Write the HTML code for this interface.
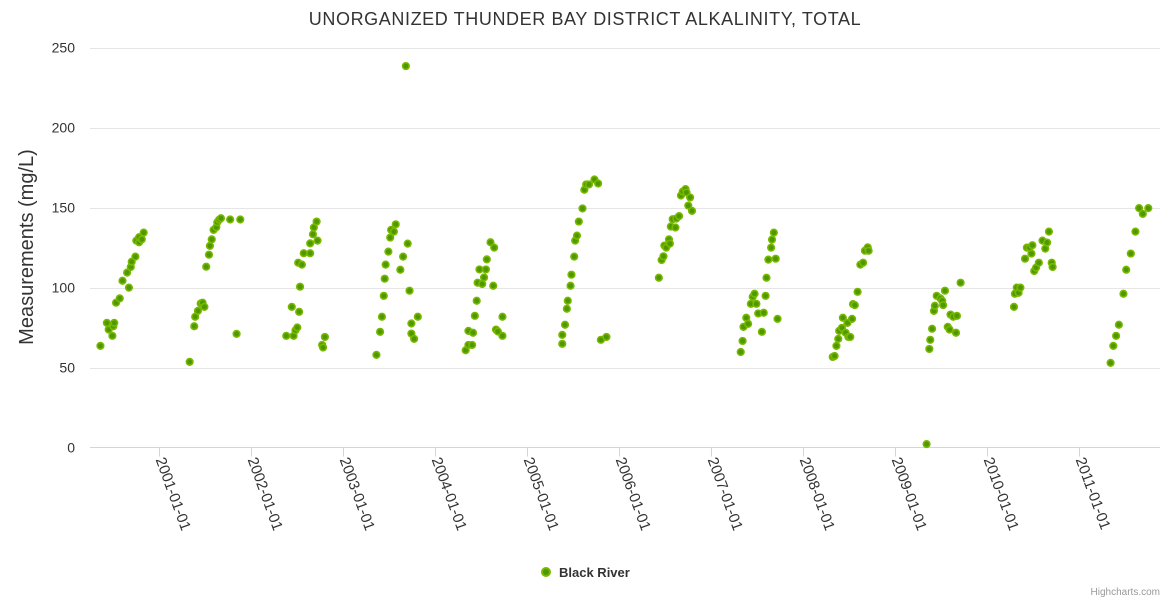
<!DOCTYPE html>
<html><head><meta charset="utf-8">
<style>
html,body{margin:0;padding:0;background:#fff;}
svg{display:block;font-family:"Liberation Sans",sans-serif;}
</style></head>
<body>
<svg id="chart" width="1170" height="600" viewBox="0 0 1170 600">
  <text x="585" y="25" text-anchor="middle" font-size="18" fill="#333" letter-spacing="0.6">UNORGANIZED THUNDER BAY DISTRICT ALKALINITY, TOTAL</text>
  <g id="grid"></g>
  <g id="yticks"></g>
  <text transform="translate(33,247) rotate(-90)" text-anchor="middle" font-size="20" fill="#333">Measurements (mg/L)</text>
  <line x1="90" y1="447.5" x2="1160" y2="447.5" stroke="#ccd6eb" stroke-width="1"/>
  <g id="xticks"></g>
  <g id="points"></g>
  <g>
    <circle cx="546" cy="572" r="4" fill="#4c9900" stroke="#7ab800" stroke-width="2"/>
    <text x="559" y="577" font-size="13" font-weight="bold" fill="#333">Black River</text>
  </g>
  <text x="1160" y="595" text-anchor="end" font-size="10" fill="#999">Highcharts.com</text>
</svg>
<script>
const yTicks = [0, 50, 100, 150, 200, 250];
const xTickYears = [2001, 2002, 2003, 2004, 2005, 2006, 2007, 2008, 2009, 2010, 2011];
const xTickLabels = ["2001-01-01","2002-01-01","2003-01-01","2004-01-01","2005-01-01","2006-01-01","2007-01-01","2008-01-01","2009-01-01","2010-01-01","2011-01-01"];
// sample dates as decimal years
const sampleYears = [
2000.36,2000.43,2000.45,2000.49,2000.50,2000.51,2000.53,2000.57,2000.60,2000.65,2000.67,2000.69,2000.70,2000.74,2000.75,2000.78,2000.78,2000.81,2000.83,
2001.33,2001.38,2001.39,2001.42,2001.45,2001.47,2001.49,2001.51,2001.54,2001.55,2001.57,2001.59,2001.62,2001.63,2001.65,2001.67,2001.77,2001.88,2001.84,
2002.38,2002.44,2002.46,2002.48,2002.50,2002.52,2002.53,2002.51,2002.55,2002.57,2002.64,2002.64,2002.67,2002.68,2002.71,2002.72,2002.77,2002.78,2002.80,
2003.36,2003.40,2003.42,2003.44,2003.45,2003.46,2003.49,2003.51,2003.52,2003.55,2003.57,2003.62,2003.65,2003.70,2003.72,2003.74,2003.74,2003.77,2003.81,2003.68,
2004.33,2004.36,2004.40,2004.36,2004.41,2004.43,2004.45,2004.46,2004.51,2004.53,2004.48,2004.55,2004.56,2004.60,2004.64,2004.63,2004.66,2004.68,2004.73,2004.73,
2005.38,2005.38,2005.41,2005.43,2005.44,2005.47,2005.48,2005.51,2005.52,2005.54,2005.56,2005.60,2005.62,2005.64,2005.67,2005.73,2005.77,2005.80,2005.86,
2006.43,2006.46,2006.48,2006.49,2006.51,2006.54,2006.55,2006.56,2006.58,2006.61,2006.62,2006.65,2006.67,2006.69,2006.72,2006.73,2006.77,2006.75,2006.79,
2007.32,2007.34,2007.35,2007.38,2007.40,2007.43,2007.45,2007.47,2007.49,2007.51,2007.55,2007.57,2007.59,2007.60,2007.62,2007.65,2007.66,2007.68,2007.70,2007.72,
2008.32,2008.34,2008.36,2008.38,2008.39,2008.42,2008.43,2008.46,2008.48,2008.49,2008.51,2008.53,2008.54,2008.56,2008.59,2008.62,2008.65,2008.67,2008.70,2008.71,
2009.34,2009.37,2009.38,2009.40,2009.42,2009.43,2009.45,2009.49,2009.51,2009.52,2009.54,2009.57,2009.59,2009.60,2009.63,2009.67,2009.66,2009.71,
2010.29,2010.30,2010.32,2010.34,2010.36,2010.41,2010.43,2010.46,2010.48,2010.49,2010.51,2010.53,2010.56,2010.60,2010.63,2010.65,2010.67,2010.70,2010.71,
2011.34,2011.37,2011.40,2011.43,2011.48,2011.51,2011.56,2011.61,2011.65,2011.69,2011.75
];
const alkalinity = [
63.5,77.9,73.7,69.8,75.8,77.9,90.5,93.2,104.2,109.3,99.9,112.8,116.1,119.3,129.3,128.3,131.4,130.1,134.3,
53.5,75.8,81.7,85.4,90.0,90.5,87.9,113.0,120.5,126.0,130.1,136.0,137.7,140.8,142.3,143.3,142.5,142.5,71.0,
69.8,87.9,69.8,73.3,75.0,84.8,100.5,115.5,114.3,121.4,121.4,127.6,133.3,137.5,141.2,129.3,64.1,62.5,69.1,
57.9,72.3,81.7,94.8,105.5,114.3,122.4,131.2,136.0,134.9,139.5,111.1,119.3,127.4,98.0,77.5,71.2,67.9,81.7,238.4,
60.8,64.1,64.1,72.9,71.7,82.3,91.7,103.0,102.2,106.3,111.3,111.3,117.6,128.3,124.9,101.1,73.7,72.5,69.8,81.7,
64.8,70.4,76.7,86.7,91.7,101.1,108.0,119.3,129.3,132.4,141.2,149.4,161.1,164.4,164.4,167.5,165.0,67.3,69.1,
106.1,117.2,119.5,126.2,124.9,130.1,127.4,138.1,142.7,137.5,143.1,144.6,157.5,160.0,161.5,159.4,156.3,151.2,147.9,
59.7,66.6,75.4,81.1,77.3,89.8,94.2,96.1,89.8,83.8,72.3,84.2,94.8,106.1,117.4,124.9,129.9,134.3,118.0,80.4,
56.6,57.2,63.5,67.9,72.9,74.8,81.1,71.7,77.9,69.1,69.1,80.4,89.6,89.0,97.3,114.3,115.5,123.0,125.1,123.0,
2.1,61.6,67.3,74.2,85.4,88.6,94.8,93.2,91.7,89.0,98.0,75.4,73.7,83.1,81.7,82.3,71.7,103.0,
87.9,96.1,99.9,96.7,99.9,118.0,124.9,124.9,121.2,126.4,110.3,112.4,115.5,129.3,124.3,128.1,134.9,115.5,112.8,
52.9,63.5,69.8,76.7,96.1,111.1,121.2,134.9,149.6,146.0,149.6
];

const NS = "http://www.w3.org/2000/svg";
const plotLeft = 90, plotRight = 1160, plotTop = 47.5, plotBottom = 447.5;
const yMin = 0, yMax = 250;
const x0Year = 2001, x0Px = 159.3, pxPerYear = 92;
function xScale(yr){ return x0Px + (yr - x0Year) * pxPerYear; }
function yScale(v){ return plotBottom - (v - yMin) / (yMax - yMin) * (plotBottom - plotTop); }
function mk(tag, attrs){ const e = document.createElementNS(NS, tag); for (const k in attrs) e.setAttribute(k, attrs[k]); return e; }

const grid = document.getElementById('grid');
const yt = document.getElementById('yticks');
yTicks.forEach(v => {
  const y = Math.round(yScale(v)) + 0.5;
  if (v !== 0) {
    const l = mk('line', {x1: plotLeft, x2: plotRight, y1: y, y2: y, stroke: '#e6e6e6', 'stroke-width': 1});
    
    
    grid.appendChild(l);
  }
  const t = mk('text', {x: 75, y: yScale(v) + 5, 'text-anchor': 'end', 'font-size': 14, fill: '#333'});
  t.textContent = v;
  
  
  yt.appendChild(t);
});

const xt = document.getElementById('xticks');
xTickYears.forEach((yr, i) => {
  const x = Math.round(xScale(yr)) + 0.5;
  const tk = mk('line', {x1: x, x2: x, y1: plotBottom, y2: plotBottom + 9, stroke: '#ccd6eb', 'stroke-width': 1});
  
  
  xt.appendChild(tk);
  const t = mk('text', {x: 0, y: 0, 'font-size': 15, fill: '#333', transform: 'translate(' + (x - 4) + ',' + (plotBottom + 12) + ') rotate(70)'});
  t.textContent = xTickLabels[i];
  
  
  xt.appendChild(t);
});

const pts = document.getElementById('points');
sampleYears.forEach((yr, i) => {
  const c = mk('circle', {cx: xScale(yr), cy: yScale(alkalinity[i]), r: 3.3, fill: '#4c9900', stroke: '#7ab800', 'stroke-width': 1.6});
  
  
  pts.appendChild(c);
});
</script>
</body></html>
